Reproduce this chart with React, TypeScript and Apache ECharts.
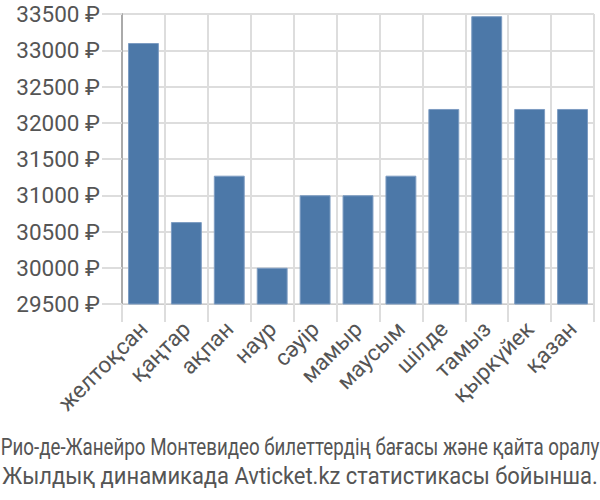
import React, { useEffect, useRef } from "react";
import * as echarts from "echarts";

const categories = ["желтоқсан", "қаңтар", "ақпан", "наур", "сәуір", "мамыр", "маусым", "шілде", "тамыз", "қыркүйек", "қазан"];
const prices = [33100, 30630, 31270, 30000, 31000, 31000, 31270, 32190, 33470, 32190, 32190];
const titleLine1 = "Рио-де-Жанейро Монтевидео билеттердің бағасы және қайта оралу";
const titleLine2 = "Жылдық динамикада Avticket.kz статистикасы бойынша.";

export default function App() {
  const ref = useRef<HTMLDivElement>(null);
  useEffect(() => {
    const chart = echarts.init(ref.current!, null, { renderer: "svg" });
    chart.setOption({
      animation: false,
      grid: { left: 122, right: 6, top: 14, bottom: 196, containLabel: false },
      xAxis: {
        type: "category",
        data: categories,
        axisLine: { show: true, lineStyle: { color: "#cccccc", width: 1 } },
        axisTick: { show: true, length: 18, alignWithLabel: false, lineStyle: { color: "#dddddd", width: 2 } },
        splitLine: { show: true, lineStyle: { color: "#dddddd", width: 2 } },
        axisLabel: {
          rotate: 45,
          interval: 0,
          margin: 21,
          fontSize: 22.5,
          color: "#555555",
          fontFamily: "Roboto",
        },
      },
      yAxis: {
        type: "value",
        min: 29500,
        max: 33500,
        interval: 500,
        axisLine: { show: true, lineStyle: { color: "#aaaaaa", width: 2 } },
        axisTick: { show: true, length: 20, lineStyle: { color: "#dddddd", width: 2 } },
        splitLine: { show: true, lineStyle: { color: "#dddddd", width: 2 } },
        axisLabel: {
          margin: 22,
          fontSize: 22.5,
          color: "#555555",
          fontFamily: "Roboto",
          formatter: (v: number) => v + " ₽",
        },
      },
      series: [
        {
          type: "bar",
          data: prices,
          barCategoryGap: "28%",
          itemStyle: { color: "#4c78a8", borderColor: "#7d9cc2", borderWidth: 1 },
        },
      ],
      graphic: [
        {
          type: "text",
          x: 300,
          y: 447,
          scaleX: 0.815,
          style: { text: titleLine1, fontSize: 23, fill: "#555555", fontFamily: "Roboto", textAlign: "center", textVerticalAlign: "middle" },
        },
        {
          type: "text",
          x: 300,
          y: 476,
          scaleX: 0.955,
          style: { text: titleLine2, fontSize: 23, fill: "#555555", fontFamily: "Roboto", textAlign: "center", textVerticalAlign: "middle" },
        },
      ],
    });
    return () => chart.dispose();
  }, []);
  return <div ref={ref} style={{ width: 600, height: 500, position: "absolute", left: 0, top: 0 }} />;
}
